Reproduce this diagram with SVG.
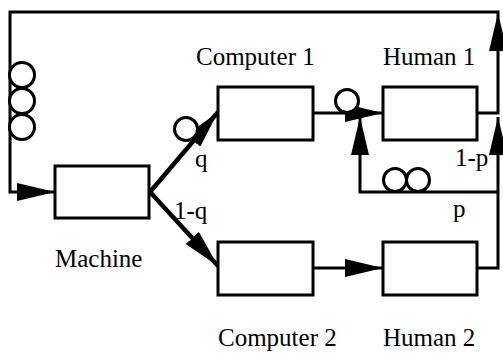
<svg xmlns="http://www.w3.org/2000/svg" width="503" height="354" viewBox="0 0 503 354">
<style>
.box{fill:#fff;stroke:#000;stroke-width:3}
.ln{fill:none;stroke:#000;stroke-width:3}
.thk{fill:none;stroke:#000;stroke-width:4.5}
.q{fill:#fff;stroke:#000;stroke-width:3}
text{font-family:"Liberation Serif","Times New Roman",serif;font-size:25px;fill:#000}
</style>
<defs>
<marker id="ah" viewBox="0 0 38 18" refX="38" refY="9" markerWidth="38" markerHeight="18" markerUnits="userSpaceOnUse" orient="auto">
<path d="M0,0 L38,9 L0,18 z" fill="#000"/>
</marker>
</defs>
<rect width="503" height="354" fill="#fff"/>
<g id="connectors">
<path class="ln" d="M498,13 L498,12 L10,12 L10,192 L55,192" marker-end="url(#ah)"/>
<path class="ln" d="M477,113 L498,113 L498,13" marker-end="url(#ah)"/>
<path class="thk" d="M150,192 L218,112" marker-end="url(#ah)"/>
<path class="thk" d="M150,192 L218,266" marker-end="url(#ah)"/>
<path class="ln" d="M313,113 L383,113" marker-end="url(#ah)"/>
<path class="ln" d="M313,268 L383,268" marker-end="url(#ah)"/>
<path class="ln" d="M477,268 L498,268 L498,117" marker-end="url(#ah)"/>
<path class="ln" d="M498,192 L360,192 L360,117" marker-end="url(#ah)"/>
</g>
<g id="queues">
<circle class="q" cx="22" cy="75" r="12.5"/>
<circle class="q" cx="22" cy="101" r="12.5"/>
<circle class="q" cx="22" cy="127" r="12.5"/>
<circle class="q" cx="186" cy="129" r="11.5"/>
<circle class="q" cx="347" cy="101" r="11.5"/>
<circle class="q" cx="395" cy="180" r="11.5"/>
<circle class="q" cx="418" cy="180" r="11.5"/>
</g>
<g id="machine">
<rect class="box" x="55" y="166" width="94" height="52"/>
<text x="55" y="267">Machine</text>
</g>
<g id="computer1">
<rect class="box" x="218" y="87" width="95" height="53"/>
<text x="196" y="65">Computer 1</text>
</g>
<g id="human1">
<rect class="box" x="383" y="87" width="94" height="53"/>
<text x="383" y="65">Human 1</text>
</g>
<g id="computer2">
<rect class="box" x="218" y="242" width="95" height="53"/>
<text x="218" y="346">Computer 2</text>
</g>
<g id="human2">
<rect class="box" x="383" y="242" width="94" height="53"/>
<text x="383" y="346">Human 2</text>
</g>
<g id="labels">
<text x="195" y="167">q</text>
<text x="174" y="219">1-q</text>
<text x="455" y="166">1-p</text>
<text x="453" y="217">p</text>
</g>
</svg>
